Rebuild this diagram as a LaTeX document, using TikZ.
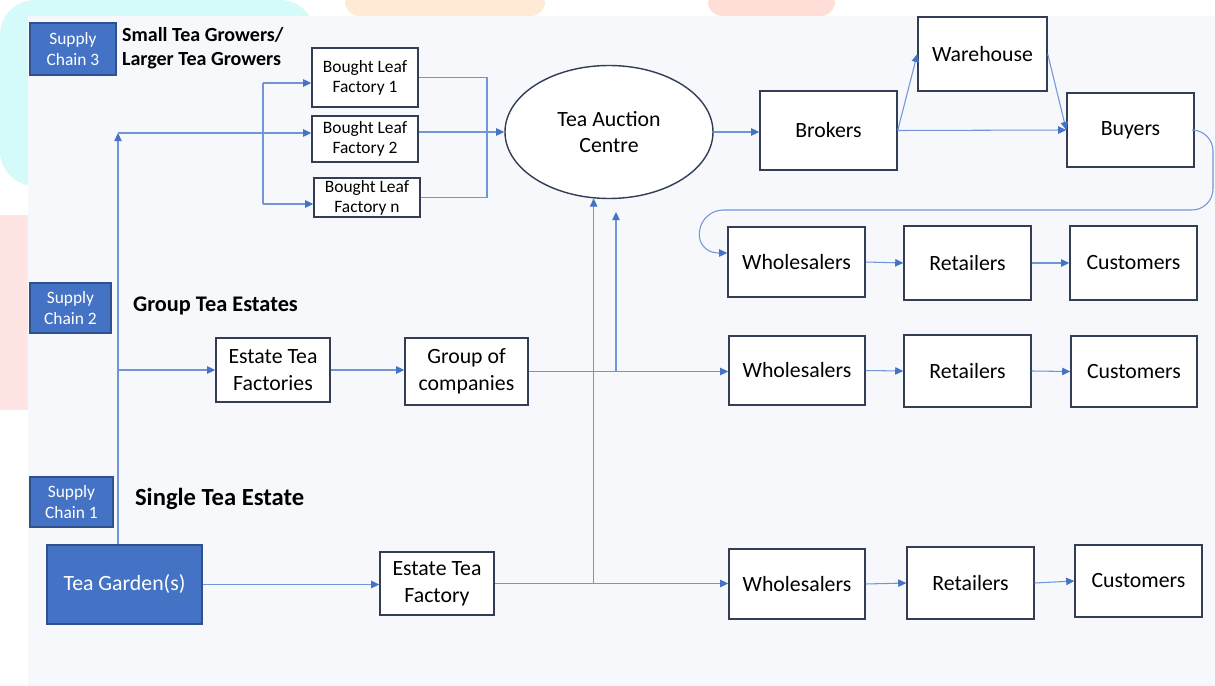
\documentclass[tikz,border=0pt]{standalone}
\usepackage{fontspec}
\setmainfont{Carlito}
\usetikzlibrary{arrows.meta,shapes.geometric}
\definecolor{accent}{RGB}{68,114,196}
\definecolor{lineblue}{RGB}{112,150,214}
\definecolor{edge}{RGB}{50,62,85}
\definecolor{bluedge}{RGB}{47,82,143}
\definecolor{dotbg}{RGB}{246,248,252}
\definecolor{wmcyan}{RGB}{212,250,250}
\definecolor{wmpink}{RGB}{255,228,228}
\definecolor{wmorange}{RGB}{255,234,214}
\definecolor{wmred}{RGB}{255,222,216}
\newcommand{\pbox}[7][box]{\node[#1, minimum width={(#4-#2)*0.02cm}, minimum height={(#5-#3)*0.02cm}] (#6) at ({(#2+#4)/2},{(#3+#5)/2}) {#7};}
\begin{document}
\begin{tikzpicture}[x=0.02cm,y=-0.02cm,
  box/.style={draw=edge, line width=0.8pt, fill=white, inner sep=0pt, align=center, font=\fontsize{12.4}{15.3}\selectfont},
  smallbox/.style={box, font=\fontsize{9.9}{11.3}\selectfont},
  bluebox/.style={box, fill=accent, draw=bluedge, text=white},
  chainbox/.style={bluebox, font=\fontsize{9.9}{11.9}\selectfont},
  heading/.style={font=\bfseries\fontsize{12.7}{13.6}\selectfont, align=left, anchor=west, inner sep=1pt},
  link/.style={draw=lineblue, line width=0.6pt},
  arr/.style={link, -{Triangle[length=4.6pt,width=4.2pt,color=accent]}}
]
\useasboundingbox (0,0) rectangle (1215,686);
% watermark remnants and dotted page
\fill[wmcyan, rounded corners=20] (0,0) rectangle (315,186);
\fill[wmpink] (0,215) rectangle (28,410);
\fill[wmorange, rounded corners=8] (345,-10) rectangle (545,16);
\fill[wmred, rounded corners=8] (708,-10) rectangle (835,16);
\fill[dotbg] (28,16) rectangle (1215,686);

% supply chain labels
\pbox[chainbox]{30}{23}{116}{75}{sc3}{Supply\\Chain 3}
\pbox[chainbox]{30}{283}{111}{333}{sc2}{Supply\\Chain 2}
\pbox[chainbox]{30}{477}{113}{527}{sc1}{Supply\\Chain 1}
\node[heading, font=\bfseries\fontsize{11.4}{13.6}\selectfont] (h3) at (120,48) {Small Tea Growers/\\Larger Tea Growers};
\node[heading] (h2) at (131,306) {Group Tea Estates};
\node[heading, font=\bfseries\fontsize{14}{16}\selectfont] (h1) at (133,499) {Single Tea Estate};

% supply side
\pbox[bluebox]{47}{545}{202}{624}{garden}{Tea Garden(s)}
\pbox[smallbox]{312}{48}{418}{107}{blf1}{Bought Leaf\\Factory 1}
\pbox[smallbox]{312}{116}{418}{162}{blf2}{Bought Leaf\\Factory 2}
\pbox[smallbox]{314}{178}{420}{217}{blfn}{Bought Leaf\\Factory n}
\pbox{216}{338}{330}{402}{etfs}{Estate Tea\\Factories}
\pbox{405}{338}{528}{405}{goc}{Group of\\companies}
\pbox{380}{552}{494}{615}{etf}{Estate Tea\\Factory}

% auction and trade
\node[box, ellipse, minimum width={208*0.02cm}, minimum height={133*0.02cm}] (auction) at (609,132) {Tea Auction\\Centre};
\pbox{760}{91}{897}{170}{brokers}{Brokers}
\pbox{918}{17}{1047}{91}{warehouse}{Warehouse}
\pbox{1067}{93}{1194}{167}{buyers}{Buyers}

% distribution rows
\pbox{728}{227}{865}{297}{wa}{Wholesalers}
\pbox{904}{226}{1031}{300}{ra}{Retailers}
\pbox{1070}{226}{1197}{300}{ca}{Customers}
\pbox{729}{336}{865}{405}{wb}{Wholesalers}
\pbox{904}{335}{1031}{407}{rb}{Retailers}
\pbox{1071}{336}{1197}{407}{cb}{Customers}
\pbox{729}{549}{865}{619}{wc}{Wholesalers}
\pbox{907}{547}{1034}{619}{rc}{Retailers}
\pbox{1075}{545}{1202}{617}{cc}{Customers}

% helper coordinates
\coordinate (vx) at (118,133);
\coordinate (bk1) at (263,83);
\coordinate (bkn) at (263,204);
\coordinate (rx) at (487,0);
\coordinate (up2) at (616,212);
\coordinate (ra1) at (1213,130);
\coordinate (ra2) at (1213,210);
\coordinate (ra3) at (702,210);
\coordinate (ra4) at (697,253);

% supply chain 3
\draw[arr] (garden.north -| vx) -- (vx);
\draw[arr] (vx) -- (vx -| blf2.west);
\draw[link] (bk1) -- (bkn);
\draw[arr] (bk1) -- (bk1 -| blf1.west);
\draw[arr] (bkn) -- (bkn -| blfn.west);
\draw[link] (blf1.east) -- (blf1.east -| rx) -- (blfn.east -| rx) -- (blfn.east);
\draw[arr] (blf2.east |- auction.west) -- (auction.west);

% supply chain 2
\draw[arr] (etfs.west -| vx) -- (etfs.west);
\draw[arr] (etfs.east) -- (etfs.east -| goc.west);
\draw[arr] (goc.east) -- (goc.east -| wb.west);
\draw[arr] (up2 |- goc.east) -- (up2);

% supply chain 1
\draw[arr] (garden.east) -- (garden.east -| etf.west);
\draw[arr] (etf.east) -- (etf.east -| wc.west);
\draw[arr] (auction.257 |- etf.east) -- (auction.257);

% auction onwards
\draw[arr] (auction.east) -- (auction.east -| brokers.west);
\draw[arr] (brokers.east) -- (warehouse.west);
\draw[arr] (warehouse.east) -- (buyers.west);
\draw[arr] (brokers.east) -- (buyers.west);
\draw[arr, rounded corners=12] (buyers.east) -- (ra1) -- (ra2) -- (ra3) -- (ra4) -- (ra4 -| wa.west);

% rows
\draw[arr] (wa.east) -- (ra.west);
\draw[arr] (ra.east) -- (ca.west);
\draw[arr] (wb.east) -- (rb.west);
\draw[arr] (rb.east) -- (cb.west);
\draw[arr] (wc.east) -- (rc.west);
\draw[arr] (rc.east) -- (cc.west);
\end{tikzpicture}
\end{document}
